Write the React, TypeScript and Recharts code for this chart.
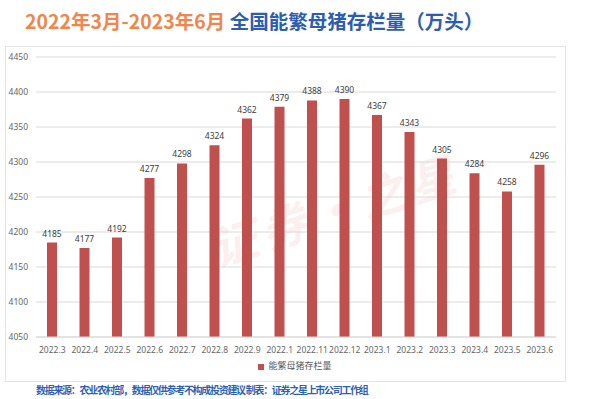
import React from 'react';
import { BarChart, Bar, XAxis, YAxis, CartesianGrid, LabelList, Legend } from 'recharts';

const categories = ['2022.3', '2022.4', '2022.5', '2022.6', '2022.7', '2022.8', '2022.9', '2022.1', '2022.11', '2022.12', '2023.1', '2023.2', '2023.3', '2023.4', '2023.5', '2023.6'];
const sowValues = [4185, 4177, 4192, 4277, 4298, 4324, 4362, 4379, 4388, 4390, 4367, 4343, 4305, 4284, 4258, 4296];
const yTicks = [4050, 4100, 4150, 4200, 4250, 4300, 4350, 4400, 4450];
const seriesName = '能繁母猪存栏量';

const data = categories.map((c, i) => ({ month: c, value: sowValues[i] }));

const FONT = '"Noto Sans", "Noto Sans CJK SC", sans-serif';

export default function App() {
  return (
    <div style={{ position: 'absolute', left: 0, top: 0, width: 600, height: 399, background: '#ffffff', overflow: 'hidden', fontFamily: FONT }}>
      <div style={{ position: 'absolute', left: 5, top: 46, width: 559, height: 334, border: '1px solid #E3E3E3', background: '#fff' }} />
      <div style={{ position: 'absolute', left: 25, top: 7, fontSize: 19.5, fontWeight: 700, fontFamily: '"Noto Sans CJK SC", sans-serif', whiteSpace: 'nowrap', lineHeight: '28px' }}>
        <span style={{ color: '#F0864C' }}>2022年3月-2023年6月</span>
        <span style={{ color: '#2D5DAE' }}> 全国能繁母猪存栏量（万头）</span>
      </div>
      <div style={{ position: 'absolute', left: 205, top: 175, fontSize: 46, color: 'rgba(214, 90, 90, 0.10)', transform: 'rotate(-18deg)', fontStyle: 'italic', fontFamily: '"Noto Sans CJK SC", sans-serif', fontWeight: 700, whiteSpace: 'nowrap', letterSpacing: 6 }}>
        证券·之星
      </div>
      <div style={{ position: 'absolute', left: 0, top: 0 }}>
        <BarChart width={600} height={399} data={data} margin={{ top: 57, right: 44, left: 0, bottom: 40 }}>
          <CartesianGrid vertical={false} stroke="#D9D9D9" />
          <XAxis
            dataKey="month"
            height={22}
            interval={0}
            tickLine={false}
            axisLine={{ stroke: '#D9D9D9' }}
            tick={{ fontSize: 8.5, fill: '#666666', fontFamily: FONT }}
            tickMargin={4}
          />
          <YAxis
            width={36}
            domain={[4050, 4450]}
            ticks={yTicks}
            tickLine={false}
            axisLine={false}
            interval={0}
            tick={{ fontSize: 8.5, fill: '#666666', fontFamily: FONT }}
            tickMargin={2}
          />
          <Legend
            layout="horizontal"
            verticalAlign="middle"
            align="center"
            iconType="square"
            iconSize={6}
            wrapperStyle={{ top: 359, left: 0, width: 600, fontSize: 9, fontFamily: FONT }}
            formatter={(v: string) => <span style={{ color: '#595959' }}>{v}</span>}
          />
          <Bar dataKey="value" name={seriesName} fill="#C0504D" barSize={10} isAnimationActive={false}>
            <LabelList dataKey="value" position="top" offset={6} style={{ fontSize: 8.5, fill: '#404040', fontFamily: FONT }} />
          </Bar>
        </BarChart>
      </div>
      <div style={{ position: 'absolute', left: 36, top: 382, fontSize: 10, fontWeight: 700, color: '#2F5FB3', fontFamily: '"Noto Sans CJK SC", sans-serif', whiteSpace: 'nowrap', letterSpacing: -1.3, lineHeight: '16px' }}>
        数据来源：农业农村部，数据仅供参考不构成投资建议 制表：证券之星上市公司工作组
      </div>
    </div>
  );
}
